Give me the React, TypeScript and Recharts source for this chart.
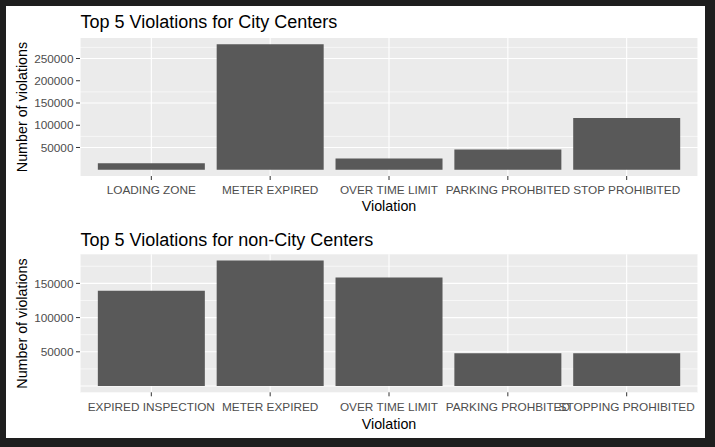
import { BarChart, Bar, XAxis, YAxis, CartesianGrid } from "recharts";

const cityViolations = [
  "LOADING ZONE",
  "METER EXPIRED",
  "OVER TIME LIMIT",
  "PARKING PROHBITED",
  "STOP PROHIBITED",
];
const cityCounts = [14400, 282000, 25500, 45500, 116500];

const nonCityViolations = [
  "EXPIRED INSPECTION",
  "METER EXPIRED",
  "OVER TIME LIMIT",
  "PARKING PROHBITED",
  "STOPPING PROHIBITED",
];
const nonCityCounts = [139300, 183300, 158700, 48000, 48000];

const cityTicks = [50000, 100000, 150000, 200000, 250000];
const cityMajor = [0, 50000, 100000, 150000, 200000, 250000];
const cityMinor = [25000, 75000, 125000, 175000, 225000, 275000];

const nonCityTicks = [50000, 100000, 150000];
const nonCityMajor = [0, 50000, 100000, 150000];
const nonCityMinor = [25000, 75000, 125000, 175000];

const FONT = "'Liberation Sans', Arial, sans-serif";
const PANEL = "#ebebeb";
const BAR = "#595959";

interface PanelProps {
  names: string[];
  counts: number[];
  ticks: number[];
  major: number[];
  minor: number[];
  top: number;
  height: number;
  marginTop: number;
  marginBottom: number;
}

function ViolationPanel({ names, counts, ticks, major, minor, top, height, marginTop, marginBottom }: PanelProps) {
  const data = names.map((name, i) => ({ name, count: counts[i] }));
  const max = Math.max(...counts);
  return (
    <div style={{ position: "absolute", left: 0, top }}>
      <BarChart
        width={715}
        height={height}
        data={data}
        margin={{ top: marginTop, right: 17, left: 0, bottom: marginBottom }}
        barCategoryGap="5%"
      >
        <CartesianGrid
          fill={PANEL}
          stroke="#ffffff"
          strokeWidth={0.6}
          vertical={false}
          horizontalValues={minor}
        />
        <CartesianGrid
          stroke="#ffffff"
          strokeWidth={1.1}
          horizontalValues={major}
        />
        <XAxis
          dataKey="name"
          interval={0}
          height={30}
          padding={{ left: 11.9, right: 11.9 }}
          axisLine={false}
          tickSize={4}
          tickMargin={6}
          tickLine={{ stroke: "#333333" }}
          tick={{ fill: "#4d4d4d", fontSize: 11.8, fontFamily: FONT }}
        />
        <YAxis
          type="number"
          width={80}
          domain={[-0.05 * max, 1.05 * max]}
          ticks={ticks}
          allowDataOverflow
          axisLine={false}
          tickSize={4}
          tickMargin={2.5}
          tickLine={{ stroke: "#333333" }}
          tick={{ fill: "#4d4d4d", fontSize: 11.8, fontFamily: FONT }}
        />
        <Bar dataKey="count" fill={BAR} isAnimationActive={false} />
      </BarChart>
    </div>
  );
}

export default function App() {
  return (
    <div
      style={{
        position: "fixed",
        left: 0,
        top: 0,
        width: 715,
        height: 447,
        background: "#1e1e1e",
        overflow: "hidden",
      }}
    >
      <div
        style={{
          position: "absolute",
          left: 6,
          top: 6,
          width: 699,
          height: 432,
          background: "#ffffff",
        }}
      />
      <ViolationPanel
        names={cityViolations}
        counts={cityCounts}
        ticks={cityTicks}
        major={cityMajor}
        minor={cityMinor}
        top={0}
        height={220}
        marginTop={38}
        marginBottom={14}
      />
      <ViolationPanel
        names={nonCityViolations}
        counts={nonCityCounts}
        ticks={nonCityTicks}
        major={nonCityMajor}
        minor={nonCityMinor}
        top={220}
        height={227}
        marginTop={34.3}
        marginBottom={24.7}
      />
      <svg
        width={715}
        height={447}
        style={{ position: "absolute", left: 0, top: 0, pointerEvents: "none" }}
        fontFamily={FONT}
      >
        <text x={80.5} y={28.3} fontSize={18} fill="#000000">
          Top 5 Violations for City Centers
        </text>
        <text x={80.5} y={245.5} fontSize={18} fill="#000000">
          Top 5 Violations for non-City Centers
        </text>
        <text x={389} y={211} fontSize={14.3} fill="#000000" textAnchor="middle">
          Violation
        </text>
        <text x={389} y={429} fontSize={14.3} fill="#000000" textAnchor="middle">
          Violation
        </text>
        <text
          x={26.5}
          y={107}
          fontSize={14.3}
          fill="#000000"
          textAnchor="middle"
          transform="rotate(-90 26.5 107)"
        >
          Number of violations
        </text>
        <text
          x={26.5}
          y={323.5}
          fontSize={14.3}
          fill="#000000"
          textAnchor="middle"
          transform="rotate(-90 26.5 323.5)"
        >
          Number of violations
        </text>
      </svg>
    </div>
  );
}
